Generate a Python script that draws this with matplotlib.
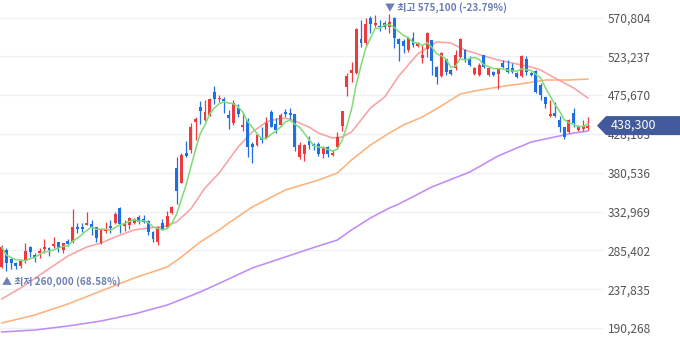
import numpy as np
import pandas as pd
import matplotlib
matplotlib.use("Agg")
import matplotlib.pyplot as plt
from matplotlib.patches import Polygon

plt.rcParams['font.family'] = ['Noto Sans CJK KR', 'DejaVu Sans']

# 일봉 데이터 (시가, 고가, 저가, 종가)
opens = [265000, 285900, 274800, 269900, 266200, 272400, 289500, 279700, 282200, 287100,
         288300, 290800, 295700, 285900, 296900, 295700, 314000, 314000, 316500, 317700,
         314000, 294400, 309100, 315300, 318900, 337300, 315300, 316500, 318900, 326300,
         323800, 321400, 307900, 295700, 318900, 314000, 331200, 386400, 368000, 404700,
         408400, 442700, 461100, 445200, 451300, 479500, 470900, 470900, 451300, 441500,
         459900, 436600, 445200, 415800, 414500, 423100, 423100, 455000, 440300, 439100,
         455000, 453800, 452500, 399800, 403500, 419400, 415800, 415800, 403500, 412100,
         402300, 412100, 437800, 485600, 502800, 502800, 544500, 539600, 570200, 561600,
         560400, 564100, 559200, 570200, 544500, 542000, 531000, 545700, 535900, 521200,
         532200, 543200, 510100, 499100, 519900, 506500, 508900, 522400, 531000, 519900,
         501600, 500300, 524800, 500300, 504000, 501600, 515000, 508900, 508900, 502800,
         499100, 519900, 502800, 505200, 488100, 473400, 450100, 453800, 445200, 436600,
         430500, 453800, 432900, 434200, 435400]
highs = [292000, 288300, 276000, 271100, 273600, 294400, 290800, 282200, 288300, 299300,
         289500, 301800, 295700, 294400, 299300, 336100, 318900, 318900, 332400, 322600,
         314000, 312800, 320200, 322600, 332400, 338600, 322600, 326300, 325100, 328700,
         328700, 322600, 309100, 315300, 323800, 333700, 339800, 399800, 404700, 419400,
         441500, 448900, 468500, 469700, 472100, 486900, 475800, 473400, 457400, 469700,
         464800, 453800, 447600, 418200, 429200, 436600, 448900, 457400, 447600, 453800,
         458700, 459900, 452500, 418200, 415800, 425600, 417000, 418200, 413300, 413300,
         408400, 430500, 456200, 502800, 516300, 557900, 567700, 570200, 572600, 573900,
         567700, 566500, 575100, 571400, 545700, 544500, 546900, 553000, 540800, 537100,
         553000, 543200, 511400, 528500, 519900, 507700, 531000, 545700, 532200, 523600,
         510100, 515000, 524800, 510100, 505200, 508900, 518700, 518700, 515000, 504000,
         524800, 523600, 504000, 506500, 490500, 473400, 469700, 467200, 450100, 436600,
         446400, 459900, 439100, 445200, 448900]
lows = [263800, 260000, 262600, 262600, 263800, 269900, 277300, 271100, 276000, 282200,
        278500, 288300, 283400, 282200, 290800, 294400, 306700, 307900, 316500, 304200,
        295700, 293200, 306700, 306700, 317700, 306700, 309100, 311600, 317700, 317700,
        318900, 304200, 295700, 292000, 310400, 312800, 330000, 342200, 368000, 399800,
        404700, 420700, 440300, 444000, 450100, 464800, 467200, 453800, 434200, 439100,
        448900, 431700, 399800, 392500, 413300, 417000, 421900, 436600, 429200, 437800,
        448900, 446400, 407200, 397400, 394900, 409600, 408400, 401100, 398600, 399800,
        401100, 409600, 431700, 474600, 491800, 501600, 534600, 537100, 551800, 559200,
        554300, 556700, 551800, 533400, 517500, 527300, 528500, 534600, 534600, 515000,
        522400, 500300, 489300, 497900, 500300, 500300, 506500, 521200, 516300, 511400,
        500300, 499100, 508900, 499100, 499100, 483200, 508900, 502800, 502800, 496700,
        497900, 500300, 499100, 478300, 469700, 459900, 448900, 448900, 430500, 421900,
        429200, 436600, 431700, 431700, 432900]
closes = [289500, 269900, 269900, 266200, 272400, 284600, 283400, 277300, 284600, 289500,
          285900, 293200, 288300, 294400, 293200, 314000, 311600, 311600, 318900, 314000,
          300600, 311600, 311600, 312800, 330000, 317700, 318900, 325100, 323800, 320200,
          320200, 307900, 299300, 314000, 311600, 327500, 338600, 358200, 402300, 401100,
          436600, 446400, 456200, 455000, 470900, 470900, 472100, 468500, 447600, 466000,
          452500, 439100, 412100, 412100, 426800, 420700, 441500, 436600, 432900, 451300,
          452500, 451300, 412100, 414500, 414500, 414500, 413300, 403500, 410900, 403500,
          404700, 424300, 456200, 499100, 506500, 556700, 539600, 562800, 562800, 564100,
          559200, 559200, 565300, 545700, 538300, 535900, 545700, 537100, 539600, 524800,
          551800, 517500, 497900, 527300, 504000, 501600, 524800, 544500, 518700, 512600,
          508900, 512600, 510100, 508900, 500300, 508900, 510100, 504000, 504000, 497900,
          523600, 504000, 500300, 479500, 475800, 464800, 452500, 450100, 436600, 424300,
          445200, 441500, 437800, 437800, 438300]

# 이동평균선 (20, 60, 120일) - 차트에서 읽은 값
ma20_idx = [0, 4, 9, 14, 18, 21, 24, 28, 31, 34, 37, 40, 43, 46, 50, 53, 56, 59, 61,
            65, 67, 70, 72, 74, 76, 78, 81, 84, 88, 92, 95, 98, 102, 105, 109, 112, 114, 117, 121, 124]
ma20 = [225800, 239300, 258900, 278500, 289500, 294400, 301800, 310400, 312800, 314000,
        320200, 336100, 361800, 380200, 412100, 430500, 442700, 447600, 446400,
        436600, 429200, 423100, 424300, 430500, 445000, 459900, 473400, 499100, 526100, 540800, 539600,
        531000, 523600, 518700, 513800, 510100, 506500, 496700, 484400, 472100]
ma60_idx = [0, 7, 14, 21, 28, 35, 38, 42, 46, 48, 53, 60, 67, 71, 74, 78, 82, 85, 89,
            93, 97, 100, 105, 111, 115, 120, 124]
ma60 = [196400, 206200, 219700, 235600, 251500, 265000, 277300, 295700, 310400, 318900,
        338600, 359400, 371600, 380200, 396200, 414500, 429200, 439100, 448900,
        462300, 477000, 480700, 485600, 490500, 494200, 494200, 495400]
ma120_idx = [0, 7, 14, 21, 28, 35, 42, 48, 53, 60, 67, 71, 74, 78, 82, 84, 91, 99,
             105, 112, 118, 121, 124]
ma120 = [185400, 187800, 192700, 198800, 207400, 218400, 234400, 250300, 263800, 277300,
         290800, 298100, 310400, 325100, 337300, 342200, 363100, 381400,
         401100, 418200, 425600, 429200, 431700]

yticks = [190268, 237835, 285402, 332969, 380536, 428103, 475670, 523237, 570804]

df = pd.DataFrame({'open': opens, 'high': highs, 'low': lows, 'close': closes})
df['ma5'] = df['close'].rolling(5, min_periods=1).mean()
x = np.arange(len(df))
up = df['close'] >= df['open']

RED = '#ec3a3f'
BLUE = '#1d6fe2'
cols = np.where(up, RED, BLUE)

fig = plt.figure(figsize=(6.8, 3.58), dpi=100)
ax = fig.add_axes([0, 0, 603 / 680, 1])

for v in yticks:
    ax.axhline(v, color='#edf0f5', lw=1, zorder=0)

ax.plot(ma120_idx, ma120, color='#c08cf6', lw=1.15, zorder=1)
ax.plot(ma60_idx, ma60, color='#fdb27c', lw=1.15, zorder=1)
ax.plot(ma20_idx, ma20, color='#f8a3a3', lw=1.15, zorder=1)

# 캔들
ax.vlines(x, df['low'], df['high'], colors=cols, lw=0.9, zorder=2)
body = np.maximum((df['close'] - df['open']).abs(), 1200)
bottom = np.minimum(df['open'], df['close'])
ax.bar(x, body, bottom=bottom, width=0.62, color=cols, zorder=3)

ax.plot(x, df['ma5'], color='#7ddc77', lw=1.1, zorder=4)

ax.set_xlim(-0.36, 127.2)
ax.set_ylim(153500, 592252)
for s in ax.spines.values():
    s.set_visible(False)
ax.set_xticks([])
ax.yaxis.tick_right()
ax.set_yticks(yticks)
ax.set_yticklabels([f'{v:,}' for v in yticks])
ax.tick_params(axis='y', length=0, pad=3.6, labelsize=8.6, labelcolor='#555555')

# 최고/최저 표시
lo_i = int(np.argmin(df['low']))
hi_i = int(np.argmax(df['high']))
last = closes[-1]
lo, hi = lows[lo_i], highs[hi_i]
ax.annotate(f'▲ 최저 {lo:,} ({(last - lo) / lo * 100:.2f}%)', xy=(lo_i, lo),
            xytext=(-4, -10), textcoords='offset pixels', ha='left', va='center',
            fontsize=7.2, color='#6b7fb6', fontweight='bold', zorder=6)
ax.annotate(f'▼ 최고 {hi:,} ({(last - hi) / hi * 100:.2f}%)', xy=(hi_i, hi),
            xytext=(-4, 6), textcoords='offset pixels', ha='left', va='center',
            fontsize=7.2, color='#6b7fb6', fontweight='bold', zorder=6)

# 현재가 라벨
fig.canvas.draw()
_, py = ax.transData.transform((0, last))
W, H = fig.bbox.width, fig.bbox.height
yc = py / H
h = 9.5 / H
pts = [(597 / W, yc), (606 / W, yc + h), (1.0, yc + h), (1.0, yc - h), (606 / W, yc - h)]
fig.patches.append(Polygon(pts, closed=True, transform=fig.transFigure,
                           facecolor='#42599b', edgecolor='none', zorder=10))
fig.text(611 / W, yc, f'{last:,}', color='white', fontsize=9,
         va='center', ha='left', zorder=11)

fig.savefig('out.png', dpi=100)
